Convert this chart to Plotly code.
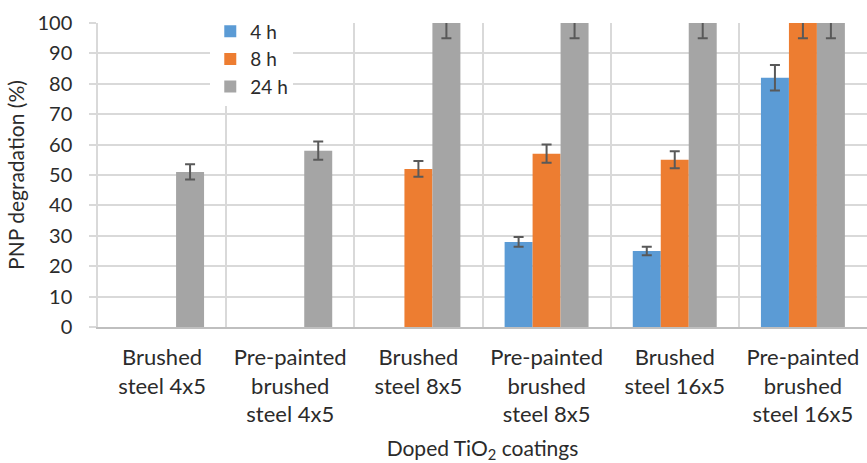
import plotly.graph_objects as go

# Coating samples (x categories), shown on two or three lines
coatings = [
    "Brushed<br>steel 4x5",
    "Pre-painted<br>brushed<br>steel 4x5",
    "Brushed<br>steel 8x5",
    "Pre-painted<br>brushed<br>steel 8x5",
    "Brushed<br>steel 16x5",
    "Pre-painted<br>brushed<br>steel 16x5",
]

# PNP degradation (%) after each irradiation time; None = not measured
deg_4h = [None, None, None, 28, 25, 82]
deg_8h = [None, None, 52, 57, 55, 100]
deg_24h = [51, 58, 100, 100, 100, 100]

# Standard deviations for the error bars
err_4h = [None, None, None, 1.6, 1.4, 4.2]
err_8h = [None, None, 2.6, 3.0, 2.8, 5.0]
err_24h = [2.5, 3.0, 5.0, 5.0, 5.0, 5.0]

series = [
    ("4 h", deg_4h, err_4h, "#5b9bd5"),
    ("8 h", deg_8h, err_8h, "#ed7d31"),
    ("24 h", deg_24h, err_24h, "#a5a5a5"),
]

FONT = "Lato, 'Open Sans', sans-serif"
TEXT = "#2b2b2b"
GRID = "#d9d9d9"

fig = go.Figure()
for name, vals, errs, color in series:
    fig.add_trace(go.Bar(
        name=name,
        x=coatings,
        y=vals,
        marker=dict(color=color, line=dict(width=0)),
        error_y=dict(type="data", array=errs, visible=True,
                     color="#595959", thickness=2, width=5),
    ))

fig.update_layout(
    width=867,
    height=463,
    margin=dict(l=98, r=0, t=23, b=136),
    paper_bgcolor="white",
    plot_bgcolor="white",
    barmode="group",
    bargap=0.345,
    bargroupgap=0,
    font=dict(family=FONT, color=TEXT, size=20),
    legend=dict(
        x=0.146, y=1.035, xanchor="left", yanchor="top",
        bgcolor="white", borderwidth=0,
        font=dict(family=FONT, size=19, color=TEXT),
        itemwidth=30,
    ),
    xaxis=dict(
        type="category",
        tickson="boundaries",
        showgrid=True, gridcolor=GRID, gridwidth=1.5,
        showline=True, linecolor="#bfbfbf", linewidth=1.5,
        ticks="", ticklabelstandoff=10,
        tickfont=dict(family=FONT, size=22, color=TEXT),
        title=dict(text="Doped TiO<sub>2</sub> coatings",
                   font=dict(family=FONT, size=21, color=TEXT), standoff=18),
    ),
    yaxis=dict(
        range=[0, 100],
        dtick=10,
        showgrid=True, gridcolor=GRID, gridwidth=1.5,
        zeroline=False,
        showline=True, linecolor=GRID, linewidth=1.5,
        ticks="outside", ticklen=7, tickcolor=GRID, tickwidth=1.5,
        ticklabelstandoff=13,
        tickfont=dict(family=FONT, size=20, color=TEXT),
        title=dict(text="PNP degradation (%)",
                   font=dict(family=FONT, size=21, color=TEXT), standoff=7),
    ),
)

fig.write_html("out.html")
